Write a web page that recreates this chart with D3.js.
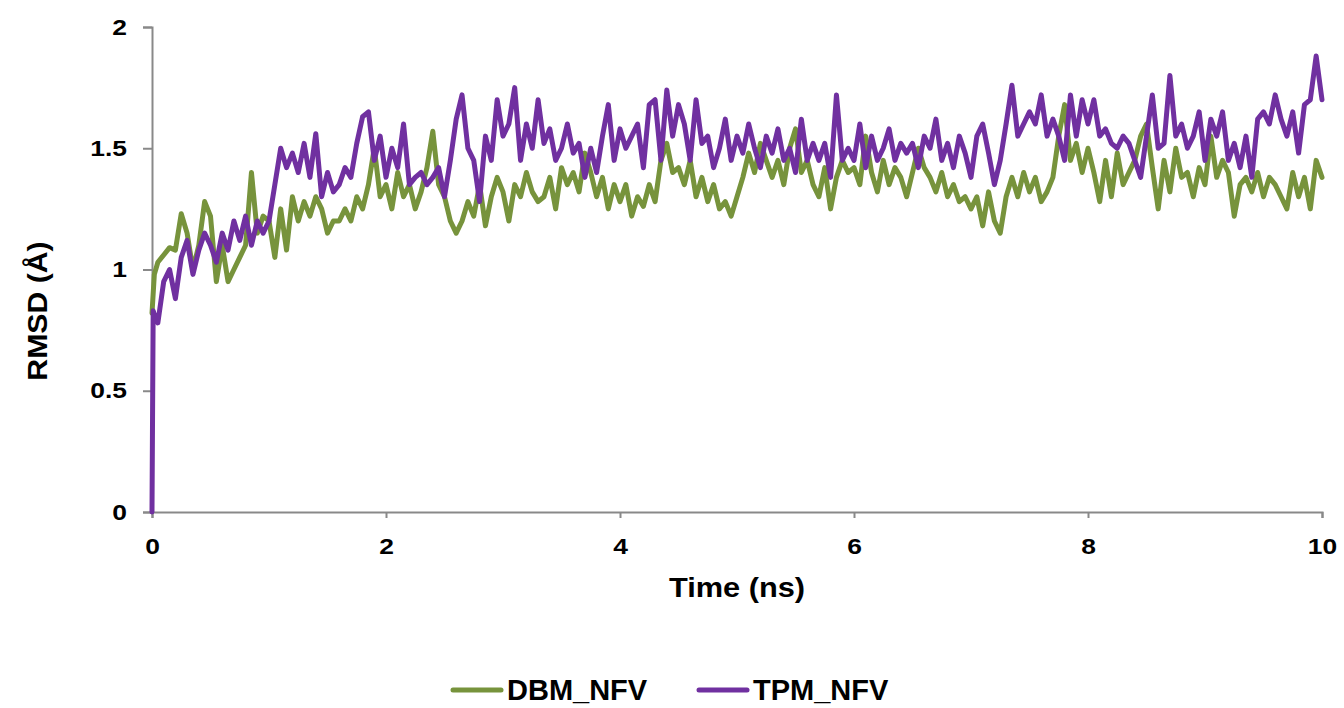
<!DOCTYPE html>
<html>
<head>
<meta charset="utf-8">
<title>RMSD</title>
<script src="https://cdnjs.cloudflare.com/ajax/libs/d3/7.8.5/d3.min.js"></script>
<style>
  * { margin: 0; padding: 0; }
  body { background: #fff; }
  text { font-family: "Liberation Sans", Arial, sans-serif; font-weight: bold; fill: #000; }
</style>
</head>
<body>
<div id="chart"></div>
<script>
// time step of the sampled series (ns)
var step = 0.05;

// first points before the regular grid
var dbmStartT = [0, 0.02];
var dbmStartV = [0.82, 0.98];
var tpmStartT = [0, 0.01, 0.03];
var tpmStartV = [0, 0.83, 0.80];

// values from t = 0.05 to t = 10.0 every 0.05 ns
var dbmValues = [
  1.03, 1.06, 1.09, 1.08, 1.23, 1.15, 1.00, 1.10, 1.28, 1.22,
  0.95, 1.10, 0.95, 1.00, 1.05, 1.10, 1.40, 1.15, 1.22, 1.20,
  1.05, 1.25, 1.08, 1.30, 1.20, 1.28, 1.22, 1.30, 1.25, 1.15,
  1.20, 1.20, 1.25, 1.20, 1.30, 1.25, 1.35, 1.50, 1.30, 1.35,
  1.25, 1.40, 1.30, 1.35, 1.25, 1.32, 1.42, 1.57, 1.35, 1.30,
  1.20, 1.15, 1.20, 1.28, 1.22, 1.35, 1.18, 1.30, 1.38, 1.32,
  1.20, 1.35, 1.30, 1.40, 1.32, 1.28, 1.30, 1.38, 1.25, 1.42,
  1.35, 1.40, 1.32, 1.48, 1.40, 1.30, 1.38, 1.25, 1.35, 1.28,
  1.35, 1.22, 1.30, 1.26, 1.35, 1.28, 1.45, 1.52, 1.40, 1.42,
  1.35, 1.45, 1.30, 1.38, 1.28, 1.35, 1.25, 1.28, 1.22, 1.30,
  1.38, 1.48, 1.40, 1.52, 1.45, 1.38, 1.45, 1.35, 1.50, 1.58,
  1.40, 1.45, 1.35, 1.30, 1.42, 1.25, 1.38, 1.45, 1.40, 1.42,
  1.35, 1.55, 1.40, 1.32, 1.45, 1.35, 1.42, 1.38, 1.30, 1.40,
  1.50, 1.42, 1.38, 1.32, 1.40, 1.30, 1.35, 1.28, 1.30, 1.25,
  1.30, 1.18, 1.32, 1.20, 1.15, 1.30, 1.38, 1.30, 1.40, 1.32,
  1.38, 1.28, 1.32, 1.38, 1.55, 1.68, 1.45, 1.52, 1.40, 1.50,
  1.40, 1.28, 1.45, 1.30, 1.48, 1.35, 1.40, 1.45, 1.55, 1.60,
  1.42, 1.25, 1.45, 1.32, 1.50, 1.38, 1.40, 1.30, 1.42, 1.35,
  1.55, 1.38, 1.45, 1.40, 1.22, 1.35, 1.38, 1.32, 1.40, 1.30,
  1.38, 1.35, 1.30, 1.25, 1.40, 1.30, 1.38, 1.25, 1.45, 1.38
];
var tpmValues = [
  0.78, 0.95, 1.00, 0.88, 1.05, 1.12, 0.98, 1.08, 1.15, 1.10,
  1.03, 1.15, 1.08, 1.20, 1.12, 1.22, 1.10, 1.20, 1.15, 1.20,
  1.35, 1.50, 1.42, 1.48, 1.40, 1.52, 1.38, 1.56, 1.30, 1.40,
  1.32, 1.35, 1.42, 1.38, 1.52, 1.63, 1.65, 1.45, 1.55, 1.38,
  1.50, 1.42, 1.60, 1.35, 1.38, 1.40, 1.35, 1.38, 1.42, 1.30,
  1.45, 1.62, 1.72, 1.50, 1.45, 1.28, 1.55, 1.45, 1.70, 1.55,
  1.60, 1.75, 1.45, 1.60, 1.50, 1.70, 1.52, 1.58, 1.45, 1.50,
  1.60, 1.48, 1.52, 1.38, 1.50, 1.40, 1.55, 1.68, 1.45, 1.58,
  1.50, 1.55, 1.60, 1.42, 1.68, 1.70, 1.45, 1.74, 1.55, 1.68,
  1.60, 1.45, 1.70, 1.52, 1.55, 1.42, 1.50, 1.62, 1.45, 1.55,
  1.48, 1.60, 1.50, 1.42, 1.55, 1.48, 1.58, 1.45, 1.50, 1.40,
  1.62, 1.45, 1.52, 1.45, 1.52, 1.38, 1.72, 1.45, 1.50, 1.45,
  1.60, 1.42, 1.55, 1.45, 1.50, 1.58, 1.45, 1.52, 1.48, 1.52,
  1.42, 1.55, 1.50, 1.62, 1.45, 1.52, 1.42, 1.55, 1.48, 1.38,
  1.55, 1.60, 1.48, 1.35, 1.45, 1.60, 1.76, 1.55, 1.60, 1.65,
  1.60, 1.72, 1.55, 1.62, 1.55, 1.45, 1.72, 1.55, 1.70, 1.60,
  1.70, 1.55, 1.58, 1.52, 1.50, 1.55, 1.52, 1.45, 1.38, 1.55,
  1.72, 1.50, 1.52, 1.80, 1.55, 1.60, 1.50, 1.55, 1.65, 1.45,
  1.62, 1.55, 1.65, 1.45, 1.52, 1.42, 1.55, 1.38, 1.62, 1.65,
  1.60, 1.72, 1.62, 1.55, 1.65, 1.48, 1.68, 1.70, 1.88, 1.70
];

var xTicks = [0, 2, 4, 6, 8, 10];
var yTicks = [0, 0.5, 1, 1.5, 2];
var seriesNames = ["DBM_NFV", "TPM_NFV"];
var seriesColors = ["#77933C", "#7030A0"];

function buildSeries(startT, startV, values) {
  var pts = startT.map(function(t, i) { return {t: t, v: startV[i]}; });
  values.forEach(function(v, i) { pts.push({t: +((i + 1) * step).toFixed(2), v: v}); });
  return pts;
}
var dbm = buildSeries(dbmStartT, dbmStartV, dbmValues);
var tpm = buildSeries(tpmStartT, tpmStartV, tpmValues);

var width = 1344, height = 708;
var plotLeft = 152, plotRight = 1322, plotTop = 27, plotBottom = 512;

var svg = d3.select("#chart").append("svg")
    .attr("width", width)
    .attr("height", height);

var x = d3.scaleLinear().domain([0, 10]).range([plotLeft, plotRight]);
var y = d3.scaleLinear().domain([0, 2]).range([plotBottom, plotTop]);

var axisColor = "#898989";
var tickFont = "22px";
// the original text is a bit wider than Liberation Sans
var stretch = 1.2;

// x axis
var xAxis = svg.append("g")
    .attr("transform", "translate(0," + plotBottom + ")")
    .call(d3.axisBottom(x).tickValues(xTicks).tickSize(6).tickPadding(20).tickFormat(d3.format("d")));
xAxis.select(".domain").attr("stroke", axisColor).attr("stroke-width", 2);
xAxis.selectAll(".tick line").attr("stroke", axisColor).attr("stroke-width", 2);
xAxis.selectAll(".tick text")
    .style("font-size", tickFont)
    .style("font-family", "Liberation Sans, Arial, sans-serif")
    .style("font-weight", "bold")
    .attr("transform", "scale(" + stretch + ",1)");

// y axis
var yAxis = svg.append("g")
    .attr("transform", "translate(" + plotLeft + ",0)")
    .call(d3.axisLeft(y).tickValues(yTicks).tickSize(9).tickFormat(function(d) { return d; }));
yAxis.select(".domain").attr("stroke", axisColor).attr("stroke-width", 2);
yAxis.selectAll(".tick line").attr("stroke", axisColor).attr("stroke-width", 2);
yAxis.selectAll(".tick text")
    .attr("x", 0)
    .attr("transform", "translate(-25,0) scale(" + stretch + ",1)")
    .style("font-size", tickFont)
    .style("font-family", "Liberation Sans, Arial, sans-serif")
    .style("font-weight", "bold");

// lines
var line = d3.line()
    .x(function(d) { return x(d.t); })
    .y(function(d) { return y(d.v); });

[dbm, tpm].forEach(function(s, i) {
  svg.append("path")
      .datum(s)
      .attr("d", line)
      .attr("fill", "none")
      .attr("stroke", seriesColors[i])
      .attr("stroke-width", 5)
      .attr("stroke-linejoin", "round")
      .attr("stroke-linecap", "round");
});

// axis titles
svg.append("text")
    .attr("transform", "translate(" + ((plotLeft + plotRight) / 2) + ",597) scale(1.14,1)")
    .attr("text-anchor", "middle")
    .style("font-size", "27px")
    .text("Time (ns)");

svg.append("text")
    .attr("transform", "translate(47,311) rotate(-90) scale(1.12,1)")
    .attr("text-anchor", "middle")
    .style("font-size", "27px")
    .text("RMSD (Å)");

// legend
var legendX = [451, 697];
seriesNames.forEach(function(name, i) {
  var g = svg.append("g").attr("transform", "translate(" + legendX[i] + ",690)");
  g.append("line")
      .attr("x1", 2).attr("x2", 50)
      .attr("y1", 0).attr("y2", 0)
      .attr("stroke", seriesColors[i])
      .attr("stroke-width", 5)
      .attr("stroke-linecap", "round");
  g.append("text")
      .attr("x", 56)
      .attr("y", 10)
      .style("font-size", "29px")
      .text(name);
});
</script>
</body>
</html>
